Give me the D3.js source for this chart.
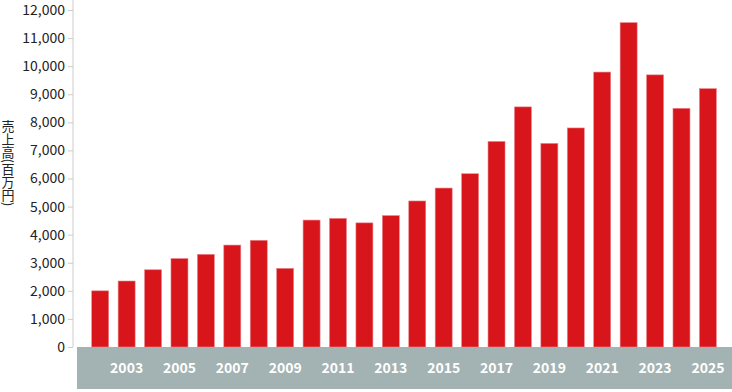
<!DOCTYPE html>
<html>
<head>
<meta charset="utf-8">
<script src="https://cdn.jsdelivr.net/npm/d3@7"></script>
<style>
  html, body { margin: 0; padding: 0; background: #fff; }
  svg { display: block; }
  text { font-family: "Noto Sans CJK JP", "Noto Sans", sans-serif; }
</style>
</head>
<body>
<svg id="chart" width="732" height="392"></svg>
<script>
const years = [2002,2003,2004,2005,2006,2007,2008,2009,2010,2011,2012,2013,2014,2015,2016,2017,2018,2019,2020,2021,2022,2023,2024,2025];
const sales = [2000,2350,2750,3150,3300,3630,3800,2800,4520,4580,4420,4680,5200,5660,6170,7320,8550,7250,7800,9790,11550,9690,8500,9200];
const yTicks = [0,1000,2000,3000,4000,5000,6000,7000,8000,9000,10000,11000,12000];
const yLabel = "売上高(百万円)";

const W = 732, H = 392;
const svg = d3.select("#chart");

const x = d3.scaleBand().domain(years).range([78.5, 729.6]).paddingInner(0.357).paddingOuter(0.5);
const y = d3.scaleLinear().domain([0, 12000]).range([347, 10]);

// category band
svg.append("rect")
  .attr("x", 77).attr("y", y(0))
  .attr("width", W - 77).attr("height", 389 - y(0))
  .attr("fill", "#a3b2b2");

// y axis
const yAxis = d3.axisLeft(y).tickValues(yTicks).tickSize(5).tickPadding(3)
  .tickFormat(d3.format(","));
const gy = svg.append("g").attr("transform", "translate(73,0)").call(yAxis);
gy.select(".domain").remove();
gy.selectAll(".tick line").attr("stroke", "#cccccc");
gy.selectAll(".tick text").attr("fill", "#222").style("font-size", "14px");
svg.append("line").attr("x1", 73).attr("x2", 73).attr("y1", 0).attr("y2", y(0))
  .attr("stroke", "#cccccc").attr("stroke-width", 1);

// bars
svg.append("g").selectAll("rect").data(years).join("rect")
  .attr("x", d => x(d))
  .attr("y", (d, i) => y(sales[i]))
  .attr("width", x.bandwidth())
  .attr("height", (d, i) => y(0) - y(sales[i]))
  .attr("fill", "#d8151b")
  .attr("stroke", "#e9858a")
  .attr("stroke-width", 0.6);

// x labels
const xAxis = d3.axisBottom(x).tickValues(years.filter(d => d % 2 === 1)).tickSize(0).tickPadding(0);
const gx = svg.append("g").attr("transform", "translate(0,368)").call(xAxis);
gx.select(".domain").remove();
gx.selectAll(".tick text")
  .attr("y", 0).attr("dy", "0.35em")
  .attr("fill", "#fff")
  .style("font-size", "14px")
  .style("font-weight", "bold");

// y label (vertical writing)
svg.append("text")
  .attr("x", 8).attr("y", 163)
  .attr("text-anchor", "middle")
  .style("writing-mode", "vertical-rl")
  .style("font-size", "13px")
  .attr("fill", "#222")
  .text(yLabel);
</script>
</body>
</html>
